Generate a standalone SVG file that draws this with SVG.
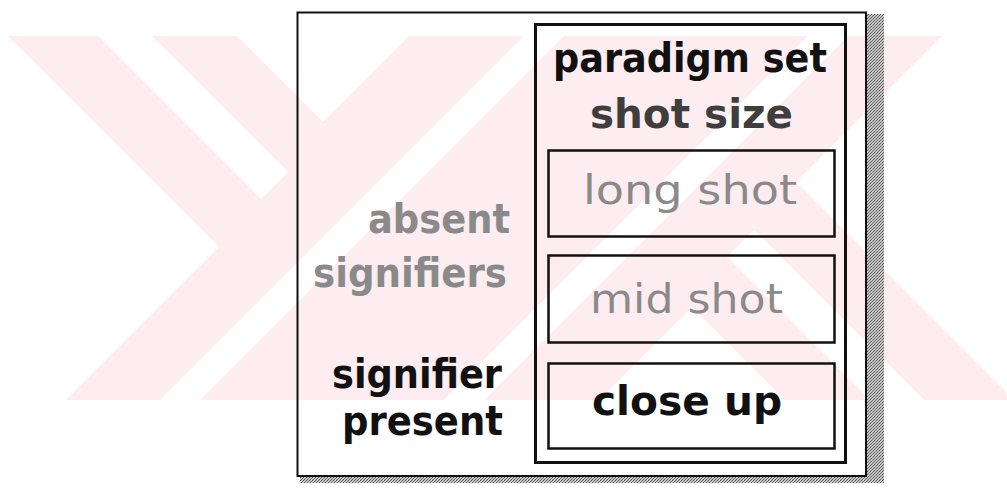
<svg xmlns="http://www.w3.org/2000/svg" width="1007" height="495" viewBox="0 0 1007 495">
  <defs>
    <clipPath id="band">
      <rect x="0" y="36" width="1007" height="364"/>
    </clipPath>
    <pattern id="dither" width="3" height="3" patternUnits="userSpaceOnUse">
      <rect width="3" height="3" fill="#c4c4c4"/>
      <rect x="0" y="0" width="1" height="1" fill="#555"/>
      <rect x="2" y="1" width="1" height="1" fill="#777"/>
      <rect x="1" y="2" width="1" height="1" fill="#666"/>
    </pattern>
  </defs>
  <style>
    .frame { fill: none; stroke: #111; }
    .bold { font-family: "DejaVu Sans", "Liberation Sans", sans-serif; font-weight: bold; font-size: 40px; }
    .reg { font-family: "DejaVu Sans", "Liberation Sans", sans-serif; font-size: 40px; }
    .dark { fill: #111; }
    .mid { fill: #3e3e3e; }
    .grey { fill: #8a8a8a; }
  </style>

  <rect width="1007" height="495" fill="#fff"/>

  <!-- background chevron mark: pink band with white cut-outs -->
  <g id="backdrop" clip-path="url(#band)">
    <rect x="0" y="36" width="1007" height="364" fill="#fdedf0"/>
    <g fill="#fff">
      <!-- outer wedges -->
      <polygon points="219,247 -300,-272 -300,766"/>
      <polygon points="796,182 1315,701 1315,-337"/>
      <!-- short stripes inside the chevron arms -->
      <polygon points="261,199 288,172 -42,-158 -69,-131"/>
      <polygon points="754,230 727,257 1057,587 1084,560"/>
      <!-- notches between the arms -->
      <polygon points="323,122 623,-178 23,-178"/>
      <polygon points="692,307 392,607 992,607"/>
      <!-- long rising stripes -->
      <polygon points="-200,760 -160,760 1000,-400 960,-400"/>
      <polygon points="844,0 884,0 484,400 444,400"/>
    </g>
  </g>

  <!-- drop shadow of the outer panel -->
  <g id="shadow" fill="url(#dither)">
    <rect x="867" y="14" width="17" height="469"/>
    <rect x="300" y="477" width="584" height="6"/>
  </g>

  <!-- outer panel -->
  <g id="panel">
    <rect class="frame" x="297.5" y="12.5" width="568.5" height="463.5" stroke-width="2"/>
  </g>

  <!-- left-hand labels -->
  <g id="absent-label">
    <text class="bold grey" x="368" y="233" textLength="142" lengthAdjust="spacingAndGlyphs">absent</text>
    <text class="bold grey" x="313" y="287" textLength="194" lengthAdjust="spacingAndGlyphs">signifiers</text>
  </g>
  <g id="present-label">
    <text class="bold dark" x="332" y="388" textLength="170" lengthAdjust="spacingAndGlyphs">signifier</text>
    <text class="bold dark" x="342" y="435" textLength="161" lengthAdjust="spacingAndGlyphs">present</text>
  </g>

  <!-- paradigm set column -->
  <g id="paradigm-set">
    <rect class="frame" x="535.5" y="24.5" width="310" height="438" stroke-width="3"/>
    <text class="bold dark" x="553" y="72" textLength="274" lengthAdjust="spacingAndGlyphs">paradigm set</text>
    <text class="bold mid" x="590" y="128" textLength="203" lengthAdjust="spacingAndGlyphs">shot size</text>
  </g>

  <g id="long-shot">
    <rect class="frame" x="548.5" y="150.5" width="286" height="86" stroke-width="2.5"/>
    <text class="reg grey" x="583" y="204" textLength="214" lengthAdjust="spacingAndGlyphs">long shot</text>
  </g>

  <g id="mid-shot">
    <rect class="frame" x="548.5" y="255.5" width="286" height="87" stroke-width="2.5"/>
    <text class="reg grey" x="590" y="313" textLength="193" lengthAdjust="spacingAndGlyphs">mid shot</text>
  </g>

  <g id="close-up">
    <rect class="frame" x="548.5" y="363.5" width="286" height="85" stroke-width="2.5"/>
    <text class="bold dark" x="592" y="415" textLength="190" lengthAdjust="spacingAndGlyphs">close up</text>
  </g>

  <g id="connectors"/>
</svg>
